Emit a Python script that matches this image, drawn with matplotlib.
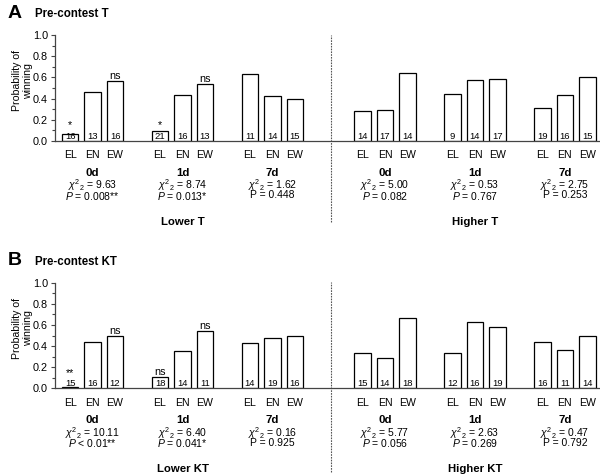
import numpy as np
import matplotlib.pyplot as plt

plt.rcParams['font.family'] = ['Liberation Sans', 'DejaVu Sans']
plt.rcParams['mathtext.fontset'] = 'custom'
plt.rcParams['mathtext.rm'] = 'Liberation Sans'
plt.rcParams['mathtext.it'] = 'Liberation Sans:italic'
plt.rcParams['mathtext.bf'] = 'Liberation Sans:bold'

cats = ['EL', 'EN', 'EW']
days = ['0d', '1d', '7d', '0d', '1d', '7d']

# panel A - pre-contest T
probA = [[0.063, 0.462, 0.563], [0.095, 0.438, 0.538], [0.636, 0.429, 0.400],
         [0.286, 0.294, 0.643], [0.444, 0.571, 0.588], [0.316, 0.438, 0.600]]
nA = [[16, 13, 16], [21, 16, 13], [11, 14, 15],
      [14, 17, 14], [9, 14, 17], [19, 16, 15]]
sigA = [['*', '', 'ns'], ['*', '', 'ns'], ['', '', ''],
        ['', '', ''], ['', '', ''], ['', '', '']]
chiA = ['9.63', '8.74', '1.62', '5.00', '0.53', '2.75']
pA = ['= 0.008**', '= 0.013*', '= 0.448', '= 0.082', '= 0.767', '= 0.253']
sideA = ['Lower T', 'Higher T']

# panel B - pre-contest KT
probB = [[0.010, 0.438, 0.500], [0.111, 0.357, 0.545], [0.429, 0.474, 0.500],
         [0.333, 0.286, 0.667], [0.333, 0.625, 0.579], [0.438, 0.364, 0.500]]
nB = [[15, 16, 12], [18, 14, 11], [14, 19, 16],
      [15, 14, 18], [12, 16, 19], [16, 11, 14]]
sigB = [['**', '', 'ns'], ['ns', '', 'ns'], ['', '', ''],
        ['', '', ''], ['', '', ''], ['', '', '']]
chiB = ['10.11', '6.40', '0.16', '5.77', '2.63', '0.47']
pB = ['< 0.01**', '= 0.041*', '= 0.925', '= 0.056', '= 0.269', '= 0.792']
sideB = ['Lower KT', 'Higher KT']

p_italic = [True, True, False, True, True, False]
group_start = [0, 4, 8, 13, 17, 21]

fig = plt.figure(figsize=(6, 4.76), dpi=100)


def panel(rect, letter, title, prob, n, sig, chi, pv, side, div_lo, div_hi):
    ax = fig.add_axes(rect)
    for g in range(6):
        for j in range(3):
            x = group_start[g] + j
            h = prob[g][j]
            ax.bar(x, h, width=0.72, color='white', edgecolor='black', linewidth=0.9)
            ax.annotate(str(n[g][j]), (x, 0), xytext=(0, 2), textcoords='offset pixels',
                        ha='center', va='baseline', fontsize=6.8)
            if sig[g][j]:
                ax.annotate(sig[g][j], (x, max(h, 0.1)), xytext=(0, 2),
                            textcoords='offset pixels', ha='center', va='baseline',
                            fontsize=7.8)
            ax.annotate(cats[j], (x, 0), xytext=(0, -14.5), textcoords='offset pixels',
                        ha='center', va='center', fontsize=7.6, annotation_clip=False)
        xc = group_start[g] + 1
        ax.annotate(days[g], (xc, 0), xytext=(0, -31.5), textcoords='offset pixels',
                    ha='center', va='center', fontsize=8.2, fontweight='bold',
                    annotation_clip=False)
        ax.annotate(r'$\chi^2{}_2$ = ' + chi[g], (xc, 0), xytext=(0, -44.5),
                    textcoords='offset pixels', ha='center', va='center', fontsize=7.5,
                    annotation_clip=False)
        ptxt = ('$P$ ' if p_italic[g] else 'P ') + pv[g]
        ax.annotate(ptxt, (xc, 0), xytext=(0, -54.5), textcoords='offset pixels',
                    ha='center', va='center', fontsize=7.5, annotation_clip=False)
    for k in range(2):
        ax.annotate(side[k], (group_start[1 + 3 * k] + 1, 0), xytext=(0, -81),
                    textcoords='offset pixels', ha='center', va='center', fontsize=8.2,
                    fontweight='bold', annotation_clip=False)

    ax.axvline(11.6, ymin=div_lo, ymax=div_hi, color='#555555', lw=0.8,
               linestyle=(0, (1.5, 1)), clip_on=False)

    ax.set_xlim(-0.67, 23.56)
    ax.set_ylim(0, 1.0)
    ax.set_xticks([])
    ax.set_yticks(np.arange(0, 1.01, 0.2))
    ax.set_yticks(np.arange(0, 1.01, 0.1), minor=True)
    ax.set_yticklabels(['%.1f' % v for v in np.arange(0, 1.01, 0.2)])
    ax.tick_params(axis='y', which='major', length=3, width=0.8, labelsize=7.8,
                   pad=2, color='#444444')
    ax.tick_params(axis='y', which='minor', length=2, width=0.8, color='#444444')
    for s in ['top', 'right']:
        ax.spines[s].set_visible(False)
    ax.spines['left'].set_color('#444444')
    ax.spines['bottom'].set_color('#444444')
    ax.spines['left'].set_linewidth(0.9)
    ax.spines['bottom'].set_linewidth(0.9)
    ax.set_ylabel('Probability of\nwinning', fontsize=7.6, linespacing=1.2)
    ax.yaxis.set_label_coords(-0.04, 0.57)

    top = rect[1] + rect[3]
    fig.text(8 / 600, top + 0.046, letter, fontsize=14, fontweight='bold',
             ha='left', va='center')
    fig.text(35 / 600, top + 0.044, title, fontsize=8.3, fontweight='bold',
             ha='left', va='center')
    return ax


panel([55 / 600, 1 - 141 / 476, 545 / 600, 106 / 476], 'A', 'Pre-contest T',
      probA, nA, sigA, chiA, pA, sideA, -0.76, 1.0)
panel([55 / 600, 1 - 388.3 / 476, 545 / 600, 105.6 / 476], 'B', 'Pre-contest KT',
      probB, nB, sigB, chiB, pB, sideB, -0.79, 1.005)

fig.savefig('out.png', dpi=100)
